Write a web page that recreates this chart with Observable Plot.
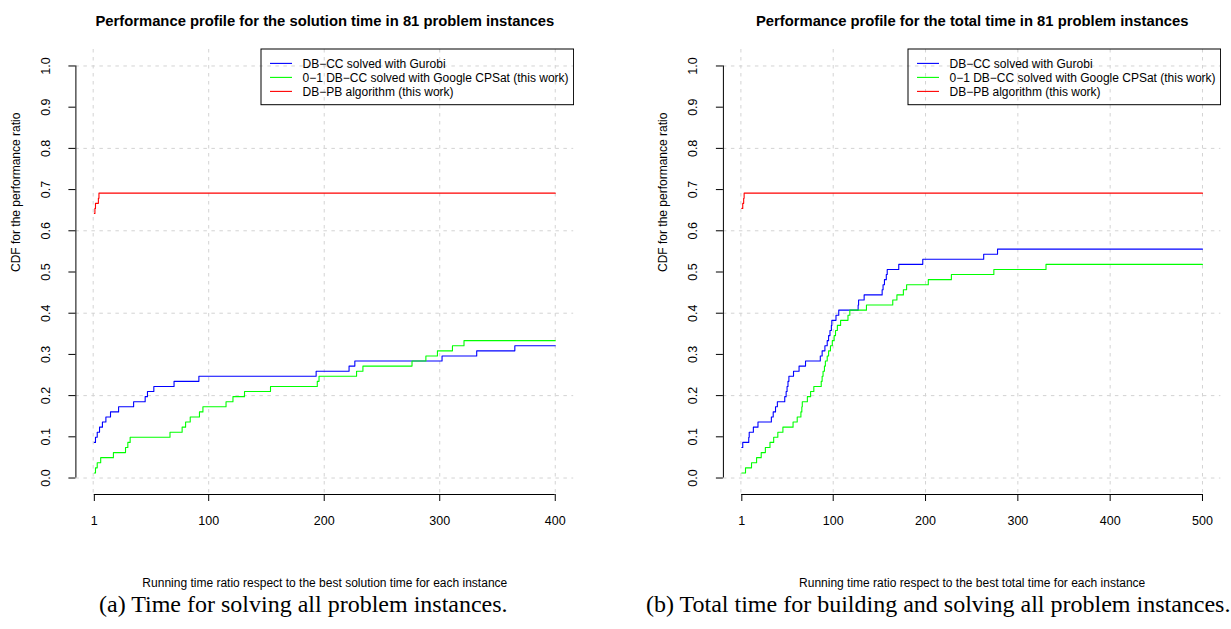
<!DOCTYPE html>
<html><head><meta charset="utf-8">
<script src="https://cdn.jsdelivr.net/npm/d3@7"></script>
<script src="https://cdn.jsdelivr.net/npm/@observablehq/plot@0.6"></script>
<style>
body{margin:0;background:#fff;}
#wrap{position:relative;width:1231px;height:629px;overflow:hidden;background:#fff;font-family:"Liberation Sans",Arial,sans-serif;}
.panel{position:absolute;top:0;}
.caption{position:absolute;top:592px;font-family:"Liberation Serif","Times New Roman",serif;font-size:24px;line-height:24px;white-space:nowrap;color:#000;}
</style></head>
<body><div id="wrap"></div>
<script>
const N_INSTANCES = 81;
const seriesNames = ["DB\u2212CC solved with Gurobi", "0\u22121 DB\u2212CC solved with Google CPSat (this work)", "DB\u2212PB algorithm (this work)"];
const seriesColors = ["#0000ff", "#00ff00", "#ff0000"];

// (a) solution time: ratio breakpoints and number of instances solved (of 81)
const solGurobiX = [1,2,3.5,5.5,8,11,15,22,35,45,47,52.5,70,91.5,193,221.5,226.5,302,332,365,400];
const solGurobiK = [7,8,9,10,11,12,13,14,15,16,17,18,19,20,21,22,23,24,25,26,26];
const solCpsatX = [1,2,3.5,6.5,17.5,28,30,32,66.5,77,80,84,92,95,115,121,131,153.5,194,195.5,228,233.5,276,288,298,311,321,400];
const solCpsatK = [1,2,3,4,5,6,7,8,9,10,11,12,13,14,15,16,17,18,19,20,21,22,23,24,25,26,27,27];
const solPbX = [1,1.5,2,4.5,5,400];
const solPbK = [52,53,54,55,56,56];

// (b) total time
const totGurobiX = [1,2,8.5,9,13.5,18.5,33,35,37.5,39.5,47.5,49,50,51,52,57,63,70,86,88,91,93.5,95,96.5,98,98.5,103,106,127,127.5,133.5,153,154,155.5,157.5,158.5,171,197,263,278,500];
const totGurobiK = [6,7,8,9,10,11,12,13,14,15,16,17,18,19,20,21,22,23,24,25,26,27,28,29,30,31,32,33,34,35,36,37,38,39,40,41,42,43,44,45,45];
const totCpsatX = [1,5,11.5,17,22,26.5,31.5,35.5,40,45.5,56.5,61,65,66,66.5,72,75.5,79,87,88,89,90.5,91.5,93.5,95,97,99,101,102.5,104.5,108,116,118,136,164.5,169,176,179.5,203,228,274,330.5,500];
const totCpsatK = [1,2,3,4,5,6,7,8,9,10,11,12,13,14,15,16,17,18,19,20,21,22,23,24,25,26,27,28,29,30,31,32,33,34,35,36,37,38,39,40,41,42,42];
const totPbX = [1,2,3,3.5,500];
const totPbK = [53,54,55,56,56];

// ticks / grid
const solTicksX = [1,100,200,300,400];
const totTicksX = [1,100,200,300,400,500];
const solGridX = [0,100,200,300,400];
const totGridX = [0,100,200,300,400,500];
const yTicks = [0,0.1,0.2,0.3,0.4,0.5,0.6,0.7,0.8,0.9,1.0];
const yGrid = [0,0.2,0.4,0.6,0.8,1.0];

const yLabel = "CDF for the performance ratio";
const titles = ["Performance profile for the solution time in 81 problem instances", "Performance profile for the total time in 81 problem instances"];
const xLabels = ["Running time ratio respect to the best solution time for each instance", "Running time ratio respect to the best total time for each instance"];
const captions = ["(a) Time for solving all problem instances.", "(b) Total time for building and solving all problem instances."];

const ext = ([a, b]) => [a - 0.04 * (b - a), b + 0.04 * (b - a)];
const gridStyle = {stroke: "#d3d3d3", strokeOpacity: 1, strokeDasharray: "3.5,4.5", strokeWidth: 1};

function makeChart({series, xTicks, xGrid, title, xLabel, width, marginLeft, marginRight}) {
  const rows = series.flatMap((s) => s.x.map((x, i) => ({x, y: s.k[i] / N_INSTANCES, name: s.name})));
  const xDom = ext(d3.extent(xTicks));
  const yDom = ext(d3.extent(yTicks));
  return Plot.plot({
    width, height: 600, marginLeft, marginRight, marginTop: 49, marginBottom: 106,
    style: {fontFamily: '"Liberation Sans", Arial, sans-serif', fontSize: "12px", color: "#000", background: "transparent"},
    x: {domain: xDom},
    y: {domain: yDom},
    color: {domain: seriesNames, range: seriesColors},
    marks: [
      Plot.gridX(xGrid, gridStyle),
      Plot.gridY(yGrid, gridStyle),
      Plot.line(rows, {x: "x", y: "y", z: "name", stroke: "name", curve: "step-after", strokeWidth: 1.1}),
      Plot.ruleY([yDom[0]], {x1: xTicks[0], x2: xTicks[xTicks.length - 1], stroke: "#000"}),
      Plot.axisX(xTicks, {tickSize: 7, tickPadding: 15, tickFormat: (d) => String(d), label: null, fontSize: 12.5}),
      Plot.ruleX([xDom[0]], {y1: yTicks[0], y2: yTicks[yTicks.length - 1], stroke: "#000"}),
      Plot.axisY(yTicks, {tickSize: 7, tickPadding: 19, tickRotate: -90, tickFormat: (d) => d.toFixed(1), label: null, fontSize: 12.5}),
      Plot.text([title], {text: (d) => d, frameAnchor: "top", dy: -34, fontWeight: "bold", fontSize: 14.8}),
      Plot.text([xLabel], {text: (d) => d, frameAnchor: "bottom", dy: 92, fontSize: 12}),
      Plot.text([yLabel], {text: (d) => d, frameAnchor: "left", dx: -60, rotate: -90, fontSize: 12})
    ]
  });
}

function makeLegend(right, top) {
  const w = 312.6, h = 55.7;
  const svg = d3.create("svg").attr("width", w + 2).attr("height", h + 2)
    .style("position", "absolute").style("left", (right - w - 1) + "px").style("top", (top - 1) + "px");
  svg.append("rect").attr("x", 1).attr("y", 1).attr("width", w).attr("height", h)
    .attr("fill", "none").attr("stroke", "#000").attr("stroke-width", 1);
  seriesNames.forEach((name, i) => {
    const y = 1 + 14.4 + i * 14;
    svg.append("line").attr("x1", 10).attr("x2", 32).attr("y1", y).attr("y2", y)
      .attr("stroke", seriesColors[i]).attr("stroke-width", 1.1);
    svg.append("text").attr("x", 42.5).attr("y", y + 4.3).text(name)
      .attr("font-family", '"Liberation Sans", Arial, sans-serif').attr("font-size", 12).attr("fill", "#000");
  });
  return svg.node();
}

const wrap = document.getElementById("wrap");

const left = document.createElement("div");
left.className = "panel"; left.style.left = "0px";
left.appendChild(makeChart({
  series: [
    {name: seriesNames[0], x: solGurobiX, k: solGurobiK},
    {name: seriesNames[1], x: solCpsatX, k: solCpsatK},
    {name: seriesNames[2], x: solPbX, k: solPbK}
  ],
  xTicks: solTicksX, xGrid: solGridX, title: titles[0], xLabel: xLabels[0],
  width: 615, marginLeft: 75.4, marginRight: 41.8
}));
wrap.appendChild(left);

const right = document.createElement("div");
right.className = "panel"; right.style.left = "626px";
right.appendChild(makeChart({
  series: [
    {name: seriesNames[0], x: totGurobiX, k: totGurobiK},
    {name: seriesNames[1], x: totCpsatX, k: totCpsatK},
    {name: seriesNames[2], x: totPbX, k: totPbK}
  ],
  xTicks: totTicksX, xGrid: totGridX, title: titles[1], xLabel: xLabels[1],
  width: 605, marginLeft: 96.9, marginRight: 10.6
}));
wrap.appendChild(right);

wrap.appendChild(makeLegend(573.2, 49.3));
wrap.appendChild(makeLegend(1220.4, 49.3));

const capA = document.createElement("div");
capA.className = "caption"; capA.style.left = "99px"; capA.textContent = captions[0];
wrap.appendChild(capA);
const capB = document.createElement("div");
capB.className = "caption"; capB.style.left = "646px"; capB.textContent = captions[1];
wrap.appendChild(capB);
</script>
</body></html>
